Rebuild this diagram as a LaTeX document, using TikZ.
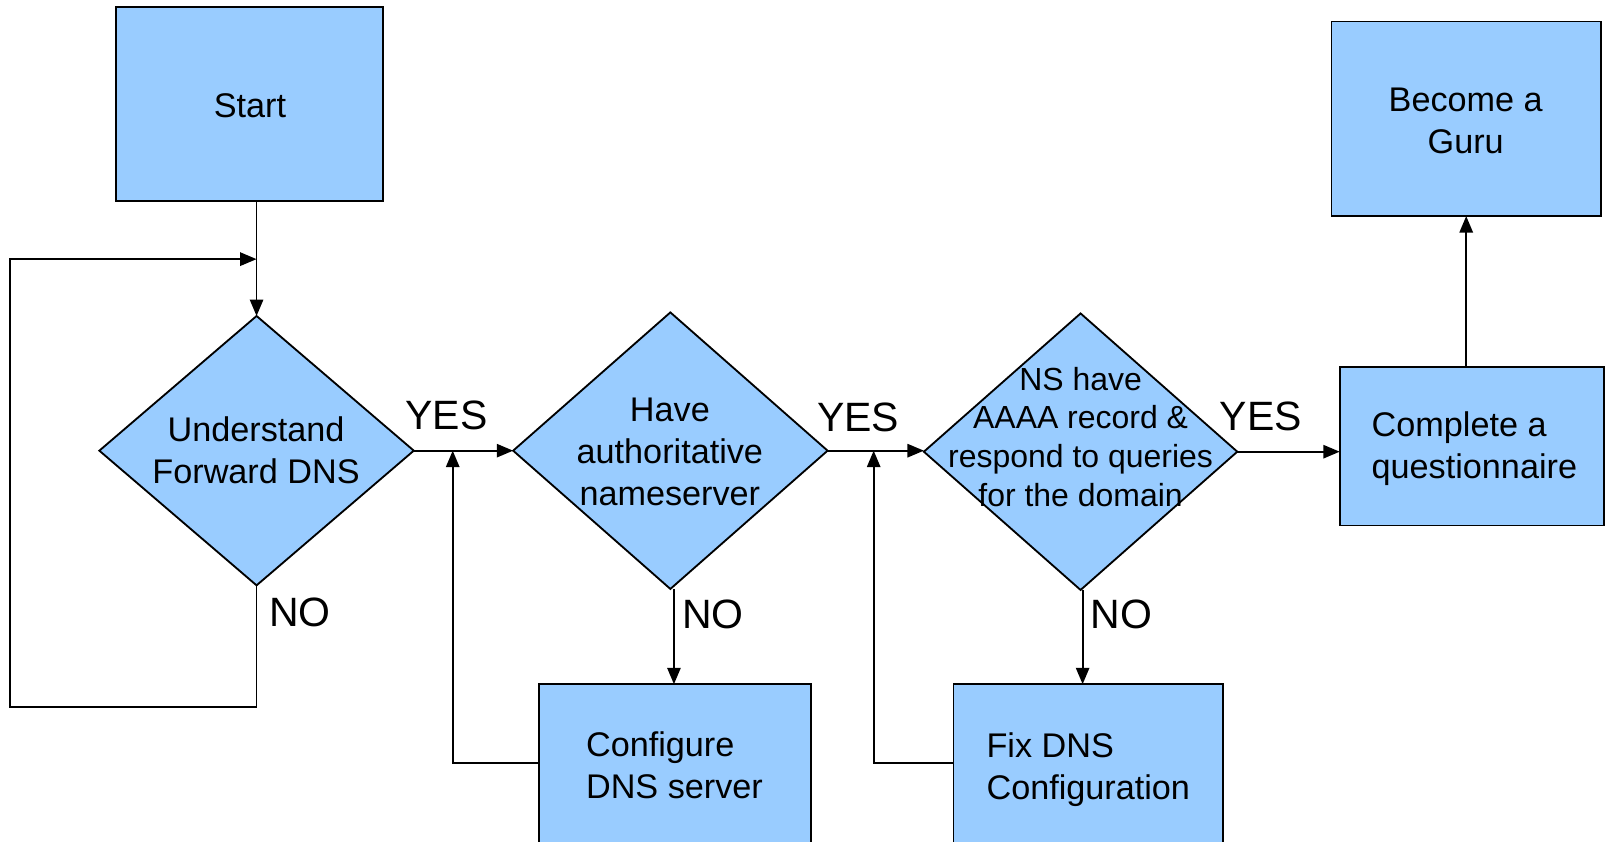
\documentclass[tikz,border=0pt]{standalone}
\usepackage{fontspec}
\setmainfont{Liberation Sans}
\usetikzlibrary{shapes.geometric,arrows.meta}
\definecolor{boxblue}{HTML}{99CCFF}
\begin{document}
\begin{tikzpicture}[x=1pt,y=-1pt,
  flow/.style={draw=black,fill=boxblue,line width=1.8pt,inner sep=0pt,outer sep=0pt},
  stepbox/.style={flow,rectangle},
  decision/.style={flow,diamond},
  txt/.style={font=\fontsize{33.4}{41}\selectfont,inner sep=0pt,align=center},
  smalltxt/.style={font=\fontsize{31.2}{37.7}\selectfont,inner sep=0pt,align=center},
  lbl/.style={font=\fontsize{40}{48}\selectfont,inner sep=0pt},
  arr/.style={draw=black,line width=1.8pt,-{Triangle[length=16pt,width=13pt]}},
  ln/.style={draw=black,line width=1.8pt}]
\clip (0,0) rectangle (1568,822);
\fill[white] (0,0) rectangle (1568,822);

% boxes
\node[stepbox,minimum width=261pt,minimum height=189pt] (start) at (243.5,101.5) {};
\node[txt] (startt) at (244,103) {Start};
\node[stepbox,minimum width=263pt,minimum height=190pt] (become) at (1431.5,116) {};
\node[txt] (becomet) at (1431,118) {Become a\\Guru};
\node[stepbox,minimum width=258pt,minimum height=155pt] (comp) at (1437,435.5) {};
\node[txt,align=left,anchor=west] (compt) at (1339,438) {Complete a\\questionnaire};
\node[stepbox,minimum width=266pt,minimum height=190pt] (conf) at (659,763) {};
\node[txt,align=left,anchor=west] (conft) at (572,747) {Configure\\DNS server};
\node[stepbox,minimum width=263pt,minimum height=190pt] (fix) at (1062.5,763) {};
\node[txt,align=left,anchor=west] (fixt) at (963,751) {Fix DNS\\Configuration};

% decisions
\node[decision,minimum width=307pt,minimum height=263pt] (d1) at (250.5,440) {};
\node[txt] (d1t) at (250,440) {Understand\\Forward DNS};
\node[decision,minimum width=307pt,minimum height=270pt] (d2) at (654.5,440) {};
\node[txt] (d2t) at (654,441) {Have\\authoritative\\nameserver};
\node[decision,minimum width=306pt,minimum height=270pt] (d3) at (1055,441) {};
\node[smalltxt] (d3t) at (1055,426.5) {NS have\\AAAA record \&\\respond to queries\\for the domain};

% labels
\node[lbl] (y1) at (436,406) {YES};
\node[lbl] (y2) at (838,408) {YES};
\node[lbl] (y3) at (1231,407) {YES};
\node[lbl] (n1) at (293,598) {NO};
\node[lbl] (n2) at (696,600) {NO};
\node[lbl] (n3) at (1095,600) {NO};

% coordinates
\coordinate (lp1) at (250.5,690);
\coordinate (lp2) at (10,690);
\coordinate (lp3) at (10,253);
\coordinate (lp4) at (250.5,253);
\coordinate (fb1) at (442,745);
\coordinate (fb2) at (853,745);
\coordinate (no2) at (658,600);
\coordinate (no3) at (1057,600);

% connectors
\draw[arr] (start.south -| d1.north) -- (d1.north);
\draw[arr] (d1.south) -- (lp1) -- (lp2) -- (lp3) -- (lp4);
\draw[arr] (d1.east) -- (d2.west);
\draw[arr] (d2.east) -- (d2.east -| d3.west);
\draw[arr] (d3.east) -- (d3.east -| comp.west);
\draw[arr] (no2 |- d2.south) -- (no2 |- conf.north);
\draw[arr] (no3 |- d3.south) -- (no3 |- fix.north);
\draw[arr] (fb1 -| conf.west) -- (fb1) -- (fb1 |- d1.east);
\draw[arr] (fb2 -| fix.west) -- (fb2) -- (fb2 |- d2.east);
\draw[arr] (become.south |- comp.north) -- (become.south);
\end{tikzpicture}
\end{document}
